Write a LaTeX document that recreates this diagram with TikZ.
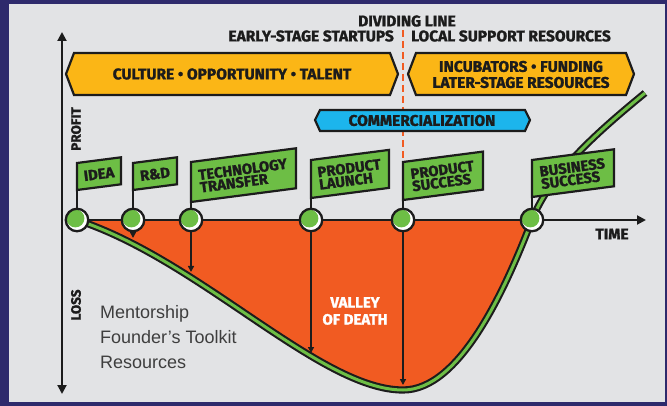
\documentclass[tikz,border=0pt]{standalone}
\usepackage{fontspec}
\setmainfont{Liberation Sans}
\newfontfamily\headfont[FakeBold=1.4]{Fira Sans Bold}
\usetikzlibrary{arrows.meta}
\usepackage{xcolor}
\definecolor{frameblue}{HTML}{2E2A6C}
\definecolor{panel}{HTML}{E2E3E5}
\definecolor{ink}{HTML}{1C1C1C}
\definecolor{bannergold}{HTML}{FBB616}
\definecolor{valley}{HTML}{F15B22}
\definecolor{flaggreen}{HTML}{6DBE45}
\definecolor{commblue}{HTML}{1CB5EC}

\begin{document}
\begin{tikzpicture}[x=1pt, y=-1pt,
    head/.style={font=\headfont\fontsize{15.5}{16}\selectfont, text=ink, align=center, inner sep=0pt},
    banner/.style={draw=ink, line width=2.2pt, line join=miter},
    flagbox/.style={draw=ink, line width=2.2pt, fill=flaggreen},
    flagtext/.style={head, rotate=7.5, align=left, font=\headfont\fontsize{14.8}{12.5}\selectfont},
    milestone/.style={circle, draw=ink, line width=2.3pt, fill=white, minimum size=22.5pt, inner sep=0pt,
        path picture={\fill[flaggreen] ([xshift=-1.6pt,yshift=1.6pt]path picture bounding box.center) circle (9pt);}},
    axis/.style={draw=ink, line width=2pt},
    drop/.style={draw=ink, line width=1.4pt, -{Triangle[width=6pt,length=6pt]}}
]
    % Frame
    \fill[frameblue] (0,0) rectangle (667,406);
    \fill[panel] (9,4) rectangle (665,402);
    \useasboundingbox (0,0) rectangle (667,406);

    % Valley and curve
    \fill[valley] (77,220) .. controls (200,260) and (320,390) .. (403,390)
        .. controls (460,390) and (505,290) .. (532,220) -- cycle;
    \draw[draw=ink, line width=2.1pt, double=flaggreen, double distance=3pt]
        (77,220) .. controls (200,260) and (320,390) .. (403,390)
        .. controls (460,390) and (505,290) .. (532,220)
        .. controls (550,173) and (600,130) .. (645,93);

    % Dividing line
    \coordinate (divtop) at (403,30);
    \coordinate (divbottom) at (403,158);
    \draw[valley, line width=2.5pt, dash pattern=on 7pt off 4pt] (divtop) -- (divbottom);

    \node[head] (divlabel) at (407,21) {DIVIDING LINE};
    \node[head, anchor=east] (early) at (394,36) {EARLY-STAGE STARTUPS};
    \node[head, anchor=west] (local) at (411,36) {LOCAL SUPPORT RESOURCES};

    % Banners
    \draw[banner, fill=bannergold] (66,74) -- (74,53) -- (390,53) -- (398,74) -- (390,95) -- (74,95) -- cycle;
    \draw[banner, fill=bannergold] (408,74) -- (416,53) -- (626,53) -- (634,74) -- (626,95) -- (416,95) -- cycle;
    \draw[banner, fill=commblue] (315,120) -- (320,110) -- (525,110) -- (530,120) -- (525,131) -- (320,131) -- cycle;

    \node[head] (culture) at (232,74) {CULTURE • OPPORTUNITY • TALENT};
    \node[head] (incub) at (521,74.5) {INCUBATORS • FUNDING\\LATER-STAGE RESOURCES};
    \node[head] (commerc) at (422,120.5) {COMMERCIALIZATION};

    % Axes
    \coordinate (profitend) at (62,32);
    \coordinate (lossend) at (62,394);
    \coordinate (timeend) at (646,220);
    \draw[axis, {Triangle[width=9pt,length=9pt]}-{Triangle[width=9pt,length=9pt]}] (lossend) -- (profitend);

    \node[head, rotate=90, font=\headfont\fontsize{13.5}{13}\selectfont] (profit) at (76,129) {PROFIT};
    \node[head, rotate=90, font=\headfont\fontsize{13.5}{13}\selectfont] (loss) at (76,305) {LOSS};
    \node[head] (time) at (612,234) {TIME};

    % Milestones
    \node[milestone] (idea) at (77,220) {};
    \node[milestone] (rnd) at (133,220) {};
    \node[milestone] (tech) at (191,220) {};
    \node[milestone] (launch) at (311,220) {};
    \node[milestone] (psuccess) at (403,220) {};
    \node[milestone] (bsuccess) at (532,220) {};

    \draw[axis, -{Triangle[width=9pt,length=9pt]}] (idea) -- (rnd) -- (tech) -- (launch) -- (psuccess) -- (bsuccess) -- (timeend);

    % Flags
    \draw[axis] (idea) -- (77,163);
    \draw[axis] (rnd) -- (133,163);
    \draw[axis] (tech) -- (191,162);
    \draw[axis] (launch) -- (311,160);
    \draw[axis] (psuccess) -- (403,162);
    \draw[axis] (bsuccess) -- (532,160);

    \draw[flagbox] (77,190) -- ++(0,-27) -- ++(44,-5.7) -- ++(0,27) -- cycle;
    \node[flagtext] (ideatext) at (99,174) {IDEA};
    \draw[flagbox] (133,190) -- ++(0,-27) -- ++(44,-5.7) -- ++(0,27) -- cycle;
    \node[flagtext] (rndtext) at (155,174) {R\&D};
    \draw[flagbox] (191,202) -- ++(0,-40) -- ++(105,-13.7) -- ++(0,40) -- cycle;
    \node[flagtext] (techtext) at (243.5,175.5) {TECHNOLOGY\\TRANSFER};
    \draw[flagbox] (311,198) -- ++(0,-38) -- ++(78,-10.1) -- ++(0,38) -- cycle;
    \node[flagtext] (launchtext) at (350,174.3) {PRODUCT\\LAUNCH};
    \draw[flagbox] (403,200) -- ++(0,-38) -- ++(80,-10.4) -- ++(0,38) -- cycle;
    \node[flagtext] (psuccesstext) at (443,176) {PRODUCT\\SUCCESS};
    \draw[flagbox] (532,197) -- ++(0,-37) -- ++(82,-10.7) -- ++(0,37) -- cycle;
    \node[flagtext] (bsuccesstext) at (573,173.5) {BUSINESS\\SUCCESS};

    % Drops to the curve
    \coordinate (rndlow) at (133,238);
    \coordinate (techlow) at (191,272);
    \coordinate (launchlow) at (311,353);
    \coordinate (psuccesslow) at (403,385);
    \draw[drop] (rnd) -- (rndlow);
    \draw[drop] (tech) -- (techlow);
    \draw[drop] (launch) -- (launchlow);
    \draw[drop] (psuccess) -- (psuccesslow);

    % Labels in the valley
    \node[head, text=white, font=\headfont\fontsize{15}{17}\selectfont] (valleytext) at (355,311) {VALLEY\\OF DEATH};
    \node[font=\fontsize{18}{25}\selectfont, text=ink!85, align=left, anchor=north west, inner sep=0pt] (tools) at (100,305)
        {Mentorship\\Founder’s Toolkit\\Resources};
\end{tikzpicture}
\end{document}
